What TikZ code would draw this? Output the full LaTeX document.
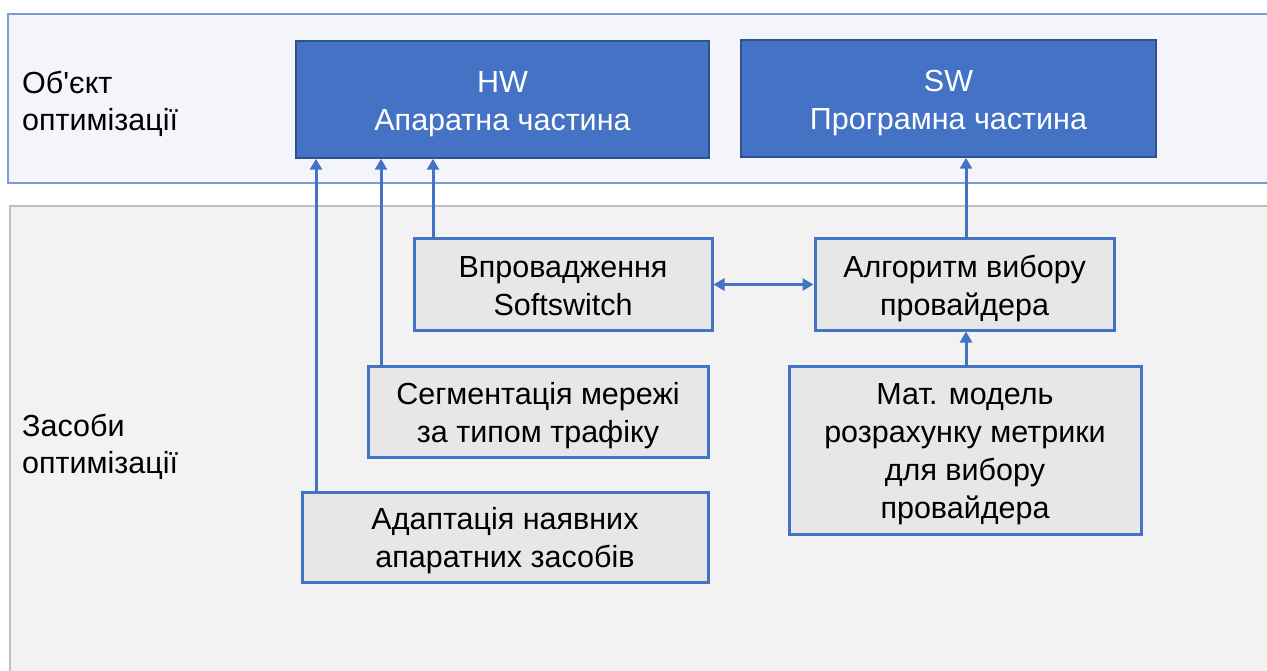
\documentclass[tikz,border=0pt]{standalone}
\usepackage{fontspec}
\setmainfont{Liberation Sans}[Ligatures=TeXOff]
\usetikzlibrary{arrows.meta}
\definecolor{bandblue}{HTML}{F3F5FA}
\definecolor{bandblueline}{HTML}{7A9BD6}
\definecolor{bandgray}{HTML}{F2F2F2}
\definecolor{bandgrayline}{HTML}{BFBFBF}
\definecolor{mainblue}{HTML}{4472C4}
\definecolor{mainblueline}{HTML}{2F528F}
\definecolor{toolfill}{HTML}{E7E7E7}
% centred lines, set slightly below the optical centre of the box
\newcommand{\boxlines}[1]{\raisebox{-4pt}[\height][\depth]{%
  \begin{tabular}{@{}c@{}}#1\end{tabular}}}
\tikzset{
  txt/.style={font=\fontsize{30.5}{38}\selectfont},
  objbox/.style={txt, draw=mainblueline, fill=mainblue, line width=1.5pt,
    text=white, inner sep=0pt},
  toolbox/.style={txt, draw=mainblue, fill=toolfill, line width=3pt,
    inner sep=0pt},
  link/.style={draw=mainblue, line width=3pt,
    -{Triangle[width=12pt,length=11pt]}},
  twolink/.style={draw=mainblue, line width=3pt,
    {Triangle[width=12pt,length=11pt]}-{Triangle[width=12pt,length=11pt]}},
  sidelabel/.style={font=\fontsize{30.5}{37}\selectfont, align=left,
    anchor=west, inner sep=0pt}
}
\begin{document}
\begin{tikzpicture}[x=1pt,y=-1pt]
  \useasboundingbox (0,0) rectangle (1267,671);
  % background bands
  \fill[white] (0,0) rectangle (1267,671);
  \draw[bandblueline, fill=bandblue, line width=2pt] (8,14) rectangle (1280,183);
  \draw[bandgrayline, fill=bandgray, line width=2pt] (10,206) rectangle (1280,690);
  % band labels
  \node[sidelabel] (objlabel) at (22,104) {Об'єкт\\оптимізації};
  \node[sidelabel] (toollabel) at (22,447) {Засоби\\оптимізації};
  % objects of optimisation
  \node[objbox, minimum width=413pt, minimum height=117pt] (hw) at (502.5,99.5)
    {\boxlines{HW\\Апаратна частина}};
  \node[objbox, minimum width=415pt, minimum height=117pt] (sw) at (948.5,98.5)
    {\boxlines{SW\\Програмна частина}};
  % means of optimisation
  \node[toolbox, minimum width=298pt, minimum height=91pt] (soft) at (563,284.5)
    {\boxlines{Впровадження\\Softswitch}};
  \node[toolbox, minimum width=299pt, minimum height=91pt] (algo) at (964.5,284.5)
    {\boxlines{Алгоритм вибору\\провайдера}};
  \node[toolbox, minimum width=340pt, minimum height=91pt] (seg) at (538,411.5)
    {\boxlines{Сегментація мережі\\за типом трафіку}};
  \node[toolbox, minimum width=352pt, minimum height=168pt] (model) at (965,450)
    {\boxlines{Мат. модель\\розрахунку метрики\\для вибору\\провайдера}};
  \node[toolbox, minimum width=406pt, minimum height=90pt] (adapt) at (505,537)
    {\boxlines{Адаптація наявних\\апаратних засобів}};
  % connector columns
  \coordinate (xa) at (316,0);
  \coordinate (xb) at (381,0);
  \coordinate (xc) at (433,0);
  \coordinate (xd) at (966,0);
  % connectors
  \draw[link] (adapt.north -| xa) -- (hw.south -| xa);
  \draw[link] (seg.north -| xb) -- (hw.south -| xb);
  \draw[link] (soft.north -| xc) -- (hw.south -| xc);
  \draw[link] (algo.north -| xd) -- (sw.south -| xd);
  \draw[link] (model.north -| xd) -- (algo.south -| xd);
  \draw[twolink] (soft.east) -- (algo.west);
\end{tikzpicture}
\end{document}
